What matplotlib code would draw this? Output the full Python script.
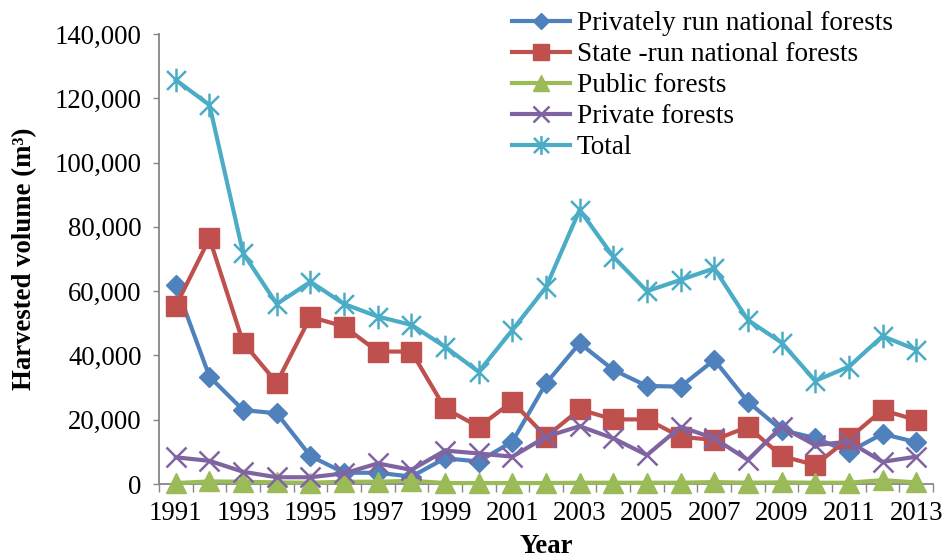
import numpy as np
import matplotlib
matplotlib.use("Agg")
import matplotlib.pyplot as plt
from matplotlib.path import Path
from matplotlib.ticker import FuncFormatter

years = list(range(1991, 2014))
privately_run = [61900, 33400, 23000, 22000, 8700, 3500, 3500, 2300, 8000, 7000, 13200, 31300,
                 43800, 35500, 30500, 30300, 38600, 25600, 16800, 14300, 10000, 15600, 13000]
state_run = [55400, 76400, 44000, 31500, 52000, 49000, 41200, 41200, 23500, 17800, 25600, 14700,
             23200, 20100, 20100, 14700, 13700, 17800, 8700, 5900, 14200, 23000, 19900]
public = [300, 800, 700, 500, 400, 700, 700, 1000, 300, 300, 300, 300,
          400, 400, 400, 400, 600, 400, 500, 400, 400, 1200, 500]
private = [8300, 7200, 3800, 2100, 2100, 3300, 6400, 4400, 10400, 9500, 8500, 14700,
           18000, 14200, 9000, 17800, 14200, 7500, 17800, 12100, 13200, 6900, 8500]
total = [125700, 117900, 71800, 56000, 62900, 56000, 52100, 49500, 42700, 34900, 47900, 61200,
         85300, 70700, 60000, 63500, 67100, 51000, 44000, 32100, 36500, 46000, 41800]
series_names = ["Privately run national forests", "State -run national forests",
                "Public forests", "Private forests", "Total"]

plt.rcParams['font.family'] = ['Liberation Serif', 'DejaVu Serif']

fig = plt.figure(figsize=(9.45, 5.59), dpi=100)
ax = fig.add_axes([159/945, 1-484/559, (933-159)/945, 450/559])

x = np.arange(len(years))

# Excel-style asterisk marker: X plus vertical bar
star_path = Path(
    [(-1, -1), (1, 1), (-1, 1), (1, -1), (0, -1.25), (0, 1.25)],
    [Path.MOVETO, Path.LINETO, Path.MOVETO, Path.LINETO, Path.MOVETO, Path.LINETO])

styles = [
    dict(color='#4F81BD', marker='D', ms=10),
    dict(color='#C0504D', marker='s', ms=14),
    dict(color='#9BBB59', marker='^', ms=15),
    dict(color='#8064A2', marker='x', ms=14, mew=1.8),
    dict(color='#4BACC6', marker=star_path, ms=17, mew=1.8),
]
data = [privately_run, state_run, public, private, total]
for vals, name, st in zip(data, series_names, styles):
    ax.plot(x, vals, color=st['color'], lw=3, marker=st['marker'], ms=st['ms'],
            mew=st.get('mew', 1), mec=st['color'], mfc=st['color'], label=name,
            solid_joinstyle='round', clip_on=False, zorder=3)

ax.set_xlim(-0.5, len(years) - 0.5)
ax.set_ylim(0, 140000)
ax.set_yticks(np.arange(0, 140001, 20000))
ax.yaxis.set_major_formatter(FuncFormatter(lambda v, p: f"{int(v):,}"))

ax.set_xticks(np.arange(-0.5, len(years), 1))
ax.set_xticklabels([])
ax.set_xticks(x[::2], minor=True)
ax.set_xticklabels([str(y) for y in years[::2]], minor=True)
ax.tick_params(axis='x', which='major', length=6, width=1, color='#868686', direction='out')
ax.tick_params(axis='x', which='minor', length=0, pad=12, labelsize=19.3)
ax.tick_params(axis='y', length=4.5, width=1, color='#868686', direction='out', labelsize=19.3, pad=8)

for s in ['top', 'right']:
    ax.spines[s].set_visible(False)
for s in ['left', 'bottom']:
    ax.spines[s].set_color('#868686')
    ax.spines[s].set_linewidth(1.3)

ax.set_ylabel('Harvested volume (m³)', fontsize=19.3, fontweight='bold')
ax.yaxis.set_label_coords(-0.158, 0.5)
ax.set_xlabel('Year', fontsize=19.3, fontweight='bold', labelpad=6)

leg = ax.legend(loc='upper left', bbox_to_anchor=(512/945, 1 - 11/559), bbox_transform=fig.transFigure,
                frameon=False, fontsize=19.6, handlelength=2.13, handletextpad=0.26,
                labelspacing=0.22, borderaxespad=0, borderpad=0, markerscale=0.8)

fig.savefig('out.png', dpi=100)
